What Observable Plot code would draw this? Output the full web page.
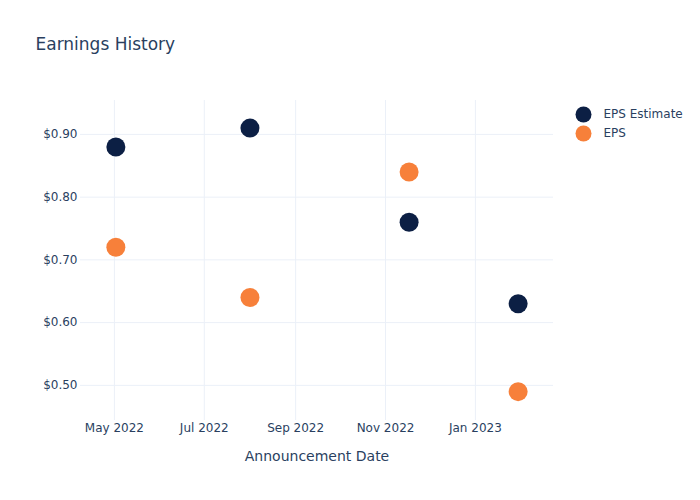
<!DOCTYPE html>
<html>
<head>
<meta charset="utf-8">
<script src="https://cdn.jsdelivr.net/npm/d3@7"></script>
<script src="https://cdn.jsdelivr.net/npm/@observablehq/plot@0.6"></script>
<style>
  html, body { margin: 0; padding: 0; background: #fff; }
  #chart { width: 700px; height: 500px; }
</style>
</head>
<body>
<div id="chart"></div>
<script>
const dates = ["2022-05-02", "2022-08-01", "2022-11-17", "2023-01-30"];
const epsEstimate = [0.88, 0.91, 0.76, 0.63];
const eps = [0.72, 0.64, 0.84, 0.49];
const seriesNames = ["EPS Estimate", "EPS"];
const seriesColors = ["#0c1f44", "#f7803a"];
const xTicks = ["2022-05-01", "2022-07-01", "2022-09-01", "2022-11-01", "2023-01-01"];
const yTicks = [0.5, 0.6, 0.7, 0.8, 0.9];

const rows = [];
dates.forEach((d, i) => {
  rows.push({date: new Date(d), value: epsEstimate[i], series: seriesNames[0]});
  rows.push({date: new Date(d), value: eps[i], series: seriesNames[1]});
});
const xTickDates = xTicks.map(d => new Date(d));

const textColor = "#2a3f5f";
const gridColor = "#ebf0f8";
const font = "DejaVu Sans, Verdana, sans-serif";

const legendMarks = seriesNames.flatMap((name, i) => [
  Plot.dot([name], {frameAnchor: "top-right", dx: 30, dy: 14 + 19 * i, r: 8, fill: seriesColors[i]}),
  Plot.text([name], {text: d => d, frameAnchor: "top-right", dx: 50, dy: 14 + 19 * i, textAnchor: "start", lineAnchor: "middle", fill: textColor, fontSize: 12})
]);

const chart = Plot.plot({
  width: 700,
  height: 500,
  marginLeft: 80,
  marginRight: 147,
  marginTop: 100,
  marginBottom: 80,
  style: {fontFamily: font, color: textColor, background: "#fff", overflow: "visible"},
  x: {type: "utc", domain: [new Date("2022-04-08"), new Date("2023-02-23")]},
  y: {domain: [0.444, 0.954]},
  color: {domain: seriesNames, range: seriesColors},
  marks: [
    Plot.gridX(xTickDates, {stroke: gridColor, strokeOpacity: 1}),
    Plot.gridY(yTicks, {stroke: gridColor, strokeOpacity: 1}),
    Plot.axisX(xTickDates, {tickFormat: d3.utcFormat("%b %Y"), tickSize: 0, tickPadding: 3, label: null, fontSize: 12, fill: textColor}),
    Plot.axisY(yTicks, {tickFormat: d => "$" + d.toFixed(2), tickSize: 0, tickPadding: 3, label: null, fontSize: 12, fill: textColor}),
    Plot.dot(rows, {x: "date", y: "value", fill: "series", r: 9.5}),
    Plot.text(["Announcement Date"], {text: d => d, frameAnchor: "bottom", dy: 36, lineAnchor: "middle", fontSize: 14, fill: textColor}),
    Plot.text(["Earnings History"], {text: d => d, frameAnchor: "top-left", dx: -45, dy: -56, textAnchor: "start", lineAnchor: "middle", fontSize: 17, fill: textColor}),
    ...legendMarks
  ]
});
document.getElementById("chart").appendChild(chart);
</script>
</body>
</html>
